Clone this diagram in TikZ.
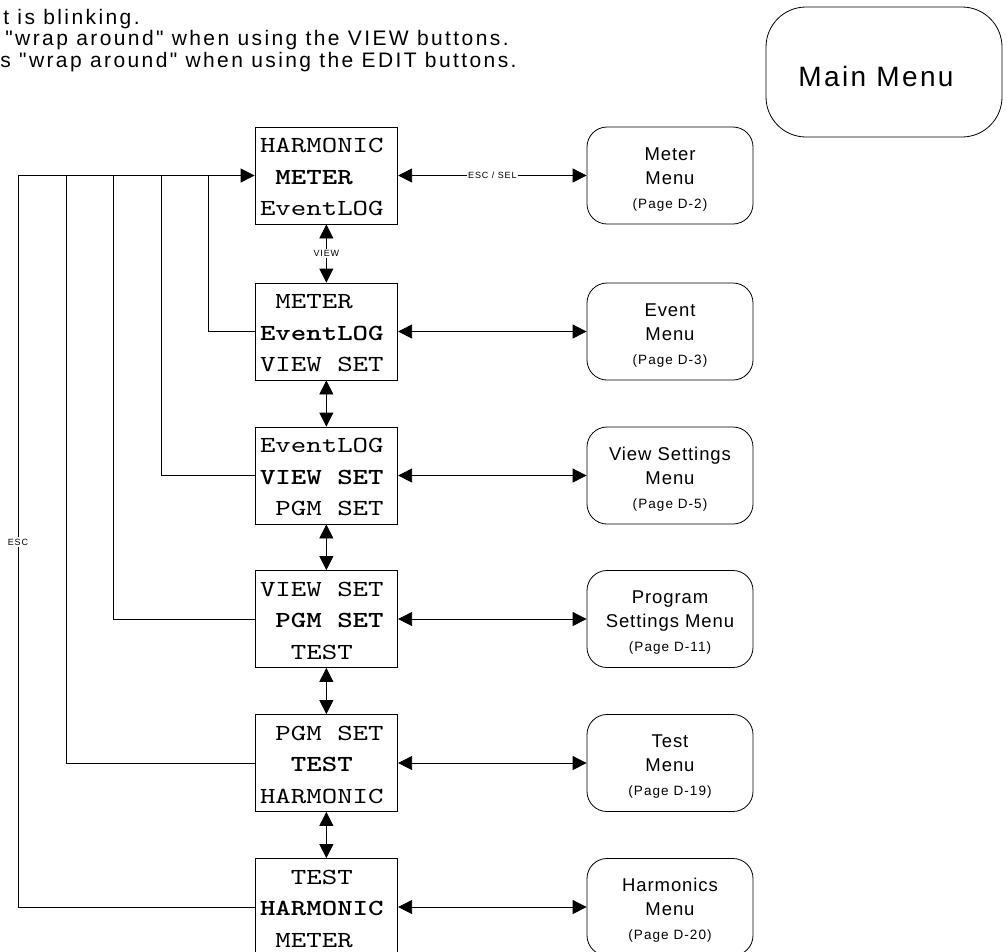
\documentclass[tikz,border=0pt]{standalone}
\usepackage{fontspec}
\setmainfont{Liberation Sans}
\newfontfamily\lcd{lmmono10-regular.otf}[BoldFont=lmmonolt10-bold.otf, FakeStretch=1.28]
\newfontfamily\lab{Liberation Sans}
\usetikzlibrary{arrows.meta}
\newcommand\pgline[1]{{\addfontfeatures{LetterSpace=8}\fontsize{13.5}{18}\selectfont #1}}
\newcommand\topst{\rule{0pt}{20pt}}
\newcommand\botst{\rule[-3pt]{0pt}{3pt}}
\newcommand\mysp{\hphantom{X}}
\begin{document}
\begin{tikzpicture}[x=1pt,y=-1pt, line width=0.8pt,
  >={Triangle[length=14pt,width=14pt]},
  lcdbox/.style={draw, minimum width=142.7pt, minimum height=97pt, inner xsep=5pt, inner ysep=0pt,
    text width=132.7pt, align=left, font=\lcd\fontsize{23}{31.5}\selectfont},
  menubox/.style={draw, rounded corners=20pt, minimum width=166pt, minimum height=97pt, inner sep=0pt,
    align=center, font=\lab\addfontfeatures{LetterSpace=5}\fontsize{18.5}{24}\selectfont},
  mainbox/.style={draw, rounded corners=40pt, minimum width=236pt, minimum height=130pt, inner sep=0pt,
    font=\lab\addfontfeatures{LetterSpace=8.5}\fontsize{28}{34}\selectfont},
  lbl/.style={fill=white, inner sep=1.5pt, font=\lab\addfontfeatures{LetterSpace=10}\fontsize{9}{10}\selectfont},
  notetext/.style={anchor=base west, inner sep=0pt, font=\lab\addfontfeatures{LetterSpace=11.5}\fontsize{21}{24}\selectfont},
  link/.style={<->}
]
\useasboundingbox (0,0) rectangle (1008,951);

% notes (top left)
\node[notetext] (n1) at (3,24.5) {t is blinking.};
\node[notetext] (n2) at (5,45.5) {"wrap around" when using the VIEW buttons.};
\node[notetext] (n3) at (0,67) {s "wrap around" when using the EDIT buttons.};

% main menu
\node[mainbox] (mm) at (884,72) {\rule{0pt}{29pt}Main Menu\hspace*{16pt}};

% LCD screens
\node[lcdbox] (L1) at (326.35,175.5) {\topst HARMONIC\\\mysp\textbf{METER}\\EventLOG\botst};
\node[lcdbox] (L2) at (326.35,331.5) {\topst\mysp METER\\\textbf{EventLOG}\\VIEW\mysp SET\botst};
\node[lcdbox] (L3) at (326.35,475.5) {\topst EventLOG\\\textbf{VIEW\mysp SET}\\\mysp PGM\mysp SET\botst};
\node[lcdbox] (L4) at (326.35,619) {\topst VIEW\mysp SET\\\mysp\textbf{PGM\mysp SET}\\\mysp\mysp TEST\botst};
\node[lcdbox] (L5) at (326.35,763) {\topst\mysp PGM\mysp SET\\\mysp\mysp\textbf{TEST}\\HARMONIC\botst};
\node[lcdbox] (L6) at (326.35,907) {\topst\mysp\mysp TEST\\\textbf{HARMONIC}\\\mysp METER\botst};

% sub menus
\node[menubox] (R1) at (670,175.5) {\topst Meter\\Menu\\\pgline{(Page D-2)}};
\node[menubox] (R2) at (670,331.5) {\topst Event\\Menu\\\pgline{(Page D-3)}};
\node[menubox] (R3) at (670,475.5) {\topst View Settings\\Menu\\\pgline{(Page D-5)}};
\node[menubox] (R4) at (670,619) {\topst Program\\Settings Menu\\\pgline{(Page D-11)}};
\node[menubox] (R5) at (670,763) {\topst Test\\Menu\\\pgline{(Page D-19)}};
\node[menubox] (R6) at (670,907) {\topst Harmonics\\Menu\\\pgline{(Page D-20)}};

% horizontal links
\draw[link] (L1.east) -- (R1.west) node[lbl, midway] (escsel) {ESC / SEL};
\draw[link] (L2.east) -- (R2.west);
\draw[link] (L3.east) -- (R3.west);
\draw[link] (L4.east) -- (R4.west);
\draw[link] (L5.east) -- (R5.west);
\draw[link] (L6.east) -- (R6.west);

% vertical links
\draw[link] (L1.south) -- (L2.north) node[lbl, midway] (view) {VIEW};
\draw[link] (L2.south) -- (L3.north);
\draw[link] (L3.south) -- (L4.north);
\draw[link] (L4.south) -- (L5.north);
\draw[link] (L5.south) -- (L6.north);

% ESC feedback lines
\coordinate (t2) at (208,175.5);
\coordinate (t3) at (161,175.5);
\coordinate (t4) at (113,175.5);
\coordinate (t5) at (66,175.5);
\coordinate (t6) at (18,175.5);
\draw (L2.west) -| (t2);
\draw (L3.west) -| (t3);
\draw (L4.west) -| (t4);
\draw (L5.west) -| (t5);
\draw (L6.west) -| (t6);
\draw[->] (t6) -- (L1.west);
\node[lbl] (esc) at (18,542) {ESC};
\end{tikzpicture}
\end{document}
